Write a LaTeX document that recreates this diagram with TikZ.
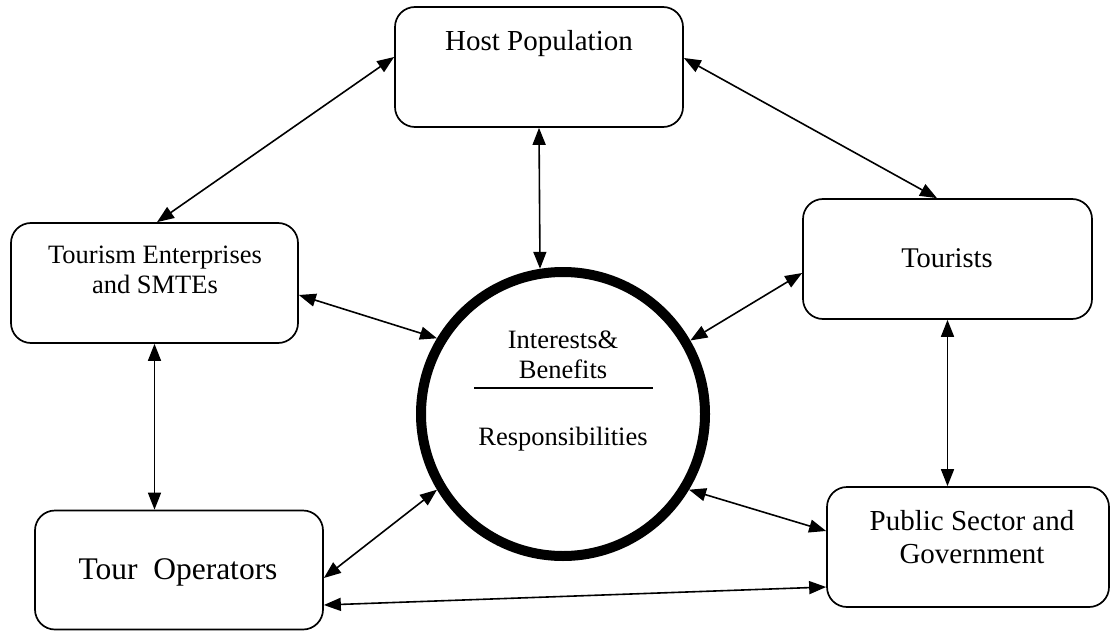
\documentclass[tikz,border=0pt]{standalone}
\usepackage{fontspec}
\setmainfont{Liberation Serif}
\usetikzlibrary{arrows.meta,calc}
\begin{document}
\begin{tikzpicture}[x=1pt,y=-1pt,
  stakebox/.style={draw,line width=1.7pt,rounded corners=20pt,minimum width=288pt,minimum height=120pt,inner sep=0pt},
  lbl/.style={anchor=base,inner sep=0pt,font=\fontsize{28}{32}\selectfont},
  link/.style={line width=1.6pt,{Triangle[length=17pt,width=13pt]}-{Triangle[length=17pt,width=13pt]}}]
\useasboundingbox (0,0) rectangle (1110,631);

% stakeholder boxes
\node[stakebox] (host) at (539,67) {};
\node[stakebox,minimum width=287pt] (tee) at (154.5,283) {};
\node[stakebox,minimum width=289pt] (tourists) at (947.5,259) {};
\node[stakebox,minimum height=119pt] (tour) at (179,570) {};
\node[stakebox,minimum width=282pt] (public) at (968,547) {};

% central circle
\node[draw,circle,line width=10pt,minimum size=284pt,inner sep=0pt] (c) at (563,414) {};

% box texts
\node[lbl,font=\fontsize{29}{33}\selectfont] (thost) at (539,51) {Host Population};
\node[lbl,font=\fontsize{26.5}{30}\selectfont] (ttee1) at (155,263) {Tourism Enterprises};
\node[lbl,font=\fontsize{26.5}{30}\selectfont] (ttee2) at (155,293) {and SMTEs};
\node[lbl,font=\fontsize{28.5}{32}\selectfont] (ttour) at (947,267) {Tourists};
\node[lbl,font=\fontsize{31.5}{36}\selectfont] (top) at (178,579) {Tour\ \ Operators};
\node[lbl,font=\fontsize{29}{33}\selectfont] (tpub1) at (972,530) {Public Sector and};
\node[lbl,font=\fontsize{29}{33}\selectfont] (tpub2) at (972,563) {Government};

% circle texts
\node[lbl,font=\fontsize{26.5}{30}\selectfont] (tint) at (563,348) {Interests\&};
\node[lbl,font=\fontsize{26.5}{30}\selectfont] (tben) at (563,378) {Benefits};
\coordinate (dl) at (474,388);
\coordinate (dr) at (653,388);
\draw[line width=1.6pt] (dl) -- (dr);
\node[lbl,font=\fontsize{26.5}{30}\selectfont] (tres) at (563,445) {Responsibilities};

% connectors
\draw[link] ([yshift=10pt]host.west) -- ([xshift=2.5pt]tee.north);
\draw[link] ([yshift=9pt]host.east) -- ([xshift=-10.5pt]tourists.north);
\draw[link] (host.south) -- (c.99);
\draw[link] ([yshift=-12pt]tee.east) -- (c.149);
\draw[link] ([yshift=-14pt]tourists.west) -- (c.30);
\draw[link] (tee.south) -- (tee.south |- tour.north);
\draw[link] (tourists.south) -- (tourists.south |- public.north);
\draw[link] ([yshift=-8pt]tour.east) -- (c.211.6);
\draw[link] (c.-31) -- ([yshift=16pt]public.west);
\draw[link] ([yshift=-35pt]tour.east) -- ([yshift=-40pt]public.west);
\end{tikzpicture}
\end{document}
